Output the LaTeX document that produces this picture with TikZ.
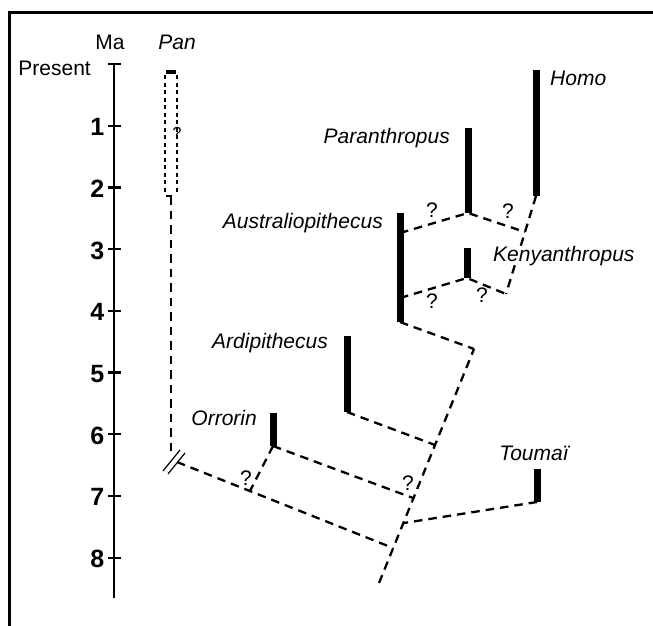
\documentclass[tikz,border=0pt]{standalone}
\usepackage{fontspec}
\setmainfont{Liberation Sans}
\usetikzlibrary{calc}
\newcommand{\TaxFont}{\fontsize{21}{25}\selectfont}

\begin{document}
\begin{tikzpicture}[x=1pt,y=-1pt,
  bar/.style={line width=7pt},
  link/.style={line width=2.3pt, dash pattern=on 8.5pt off 6pt},
  panbox/.style={line width=2.3pt, dash pattern=on 4pt off 3.5pt},
  axisline/.style={line width=2.2pt},
  taxon/.style={inner sep=0pt, font=\TaxFont\itshape},
  plain/.style={inner sep=0pt, font=\TaxFont},
  query/.style={inner sep=0pt, anchor=base, font=\fontsize{21}{25}\selectfont}]
\useasboundingbox (0,0) rectangle (653,626);
% frame
\draw[line width=3pt] (653,13) -- (9,13) -- (9,626);

% time axis
\coordinate (axtop) at (114,64);
\coordinate (axbot) at (114,598);
\draw[axisline] (axtop) -- (axbot);
\draw[axisline] (108,64) -- (121,64);
\node[plain, anchor=base east] (present) at (91,76) {Present};
\node[plain, anchor=base] (ma) at (110,49) {Ma};
\foreach \m in {1,...,8}{
  \draw[axisline] (108,64+61.7*\m) -- (121,64+61.7*\m);
  \node[anchor=base east, inner sep=0pt, font=\fontsize{25}{29}\selectfont\bfseries] (ma\m) at (104.5,74+61.7*\m) {\m};
}

% Pan
\node[taxon, anchor=base] (pan) at (177,49) {Pan};
\fill (166,70) rectangle (176,74);
\draw[panbox] (165,75) -- (165,192);
\draw[panbox] (177,75) -- (177,192);
\draw[axisline] (166,196) -- (172,196);
\node[query, font=\fontsize{16}{19}\selectfont] (panq) at (177,138) {?};
\coordinate (pantop) at (171,196);
\coordinate (pancut) at (171,455);
\draw[link] (pantop) -- (pancut);
\draw[line width=1.2pt] (163,471) -- (180,450) (168,474) -- (185,453);

% trunk
\coordinate (jbase) at (379,583);
\coordinate (jpan) at (393,548);
\coordinate (jtou) at (404,523);
\coordinate (jorr) at (413,498);
\coordinate (jard) at (435,445);
\coordinate (jaus) at (474,349);
\draw[link] (jbase) -- (jaus);
\coordinate (panroot) at (177,462);
\coordinate (jorrlow) at (250,491);
\draw[link] (panroot) -- (jpan);

% taxa
\coordinate (homotop) at (536,70);  \coordinate (homobot) at (536,196);
\coordinate (partop) at (468,128);  \coordinate (parbot) at (468,213);
\coordinate (kentop) at (467,248);  \coordinate (kenbot) at (467,278);
\coordinate (austop) at (400,213);  \coordinate (ausbot) at (400,322);
\coordinate (ausup) at (400,233);   \coordinate (auslow) at (400,298);
\coordinate (ardtop) at (347,336);  \coordinate (ardbot) at (347,412);
\coordinate (orrtop) at (273,413);  \coordinate (orrbot) at (273,446);
\coordinate (toutop) at (537,469);  \coordinate (toubot) at (537,502);
\coordinate (jpar) at (525,232);
\coordinate (jken) at (506,294);

\foreach \t in {homo,par,ken,aus,ard,orr,tou}
  \draw[bar] (\t top) -- (\t bot);

\draw[link] (homobot) -- (jpar) -- (jken);
\draw[link] (ausup) -- (parbot) -- (jpar);
\draw[link] (auslow) -- (kenbot) -- (jken);
\draw[link] (ausbot) -- (jaus);
\draw[link] (ardbot) -- (jard);
\draw[link] (orrbot) -- (jorr);
\draw[link] (orrbot) -- (jorrlow);
\draw[link] (toubot) -- (jtou);

\node[taxon, anchor=base west] (homo) at (550,85) {Homo};
\node[taxon, anchor=base east] (para) at (450,143) {Paranthropus};
\node[taxon, anchor=base east] (austr) at (383,228) {Australiopithecus};
\node[taxon, anchor=base west, fill=white] (kenya) at (493,261) {Kenyanthropus};
\node[taxon, anchor=base east] (ardi) at (328,348) {Ardipithecus};
\node[taxon, anchor=base east] (orro) at (257,425) {Orrorin};
\node[taxon, anchor=base] (toum) at (534,460) {Toumaï};

\node[query] (q1) at (432,217) {?};
\node[query] (q2) at (508,218) {?};
\node[query] (q3) at (432,308) {?};
\node[query] (q4) at (482,302) {?};
\node[query] (q5) at (246,485) {?};
\node[query] (q6) at (408,490) {?};
\end{tikzpicture}
\end{document}
